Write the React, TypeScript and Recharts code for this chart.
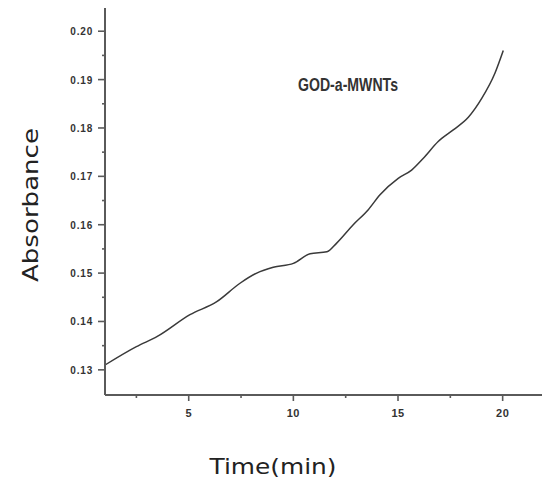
import React from 'react';
import { LineChart, Line, XAxis, YAxis, Customized } from 'recharts';

// Absorbance trace sampled along the curve (time in min)
const times = [
  1, 2.5, 3.5, 5.06, 6.34, 7.45, 8.25, 9.04, 10.0, 10.8, 11.6, 12.07, 12.86,
  13.58, 14.14, 15.01, 15.65, 16.2, 16.92, 17.64, 18.36, 19.0, 19.63, 20.03,
];
const absorbance = [
  0.131, 0.1348, 0.1369, 0.1414, 0.1441, 0.1479, 0.15, 0.1512, 0.152, 0.154,
  0.1544, 0.1562, 0.16, 0.1631, 0.1662, 0.1696, 0.1713, 0.1737, 0.1772,
  0.1796, 0.1822, 0.1861, 0.1913, 0.196,
];

const xTicks = [2.5, 5, 7.5, 10, 12.5, 15, 17.5, 20];
const yTicks = [
  0.13, 0.135, 0.14, 0.145, 0.15, 0.155, 0.16, 0.165, 0.17, 0.175, 0.18,
  0.185, 0.19, 0.195, 0.2,
];

const seriesLabel = 'GOD-a-MWNTs';
const xTitle = 'Time(min)';
const yTitle = 'Absorbance';

const data = times.map((t, i) => ({ t, a: absorbance[i] }));

const axisColor = '#5a5a5a';
const tickFont = 'Arial, "Liberation Sans", sans-serif';
const titleFont = '"DejaVu Sans", sans-serif';

const XTick = (props: any) => {
  const { x, y, payload } = props;
  const major = payload.value % 5 === 0;
  return (
    <g>
      <line x1={x} x2={x} y1={y} y2={y + (major ? 6 : 3)} stroke={axisColor} strokeWidth={1.6} />
      {major && (
        <text x={x} y={y + 22} textAnchor="middle" fontSize={11} fontWeight="bold" fill="#333" fontFamily={tickFont} letterSpacing={0.5}>
          {payload.value}
        </text>
      )}
    </g>
  );
};

const YTick = (props: any) => {
  const { x, y, payload } = props;
  const major = Math.round(payload.value * 1000) % 10 === 0;
  return (
    <g>
      <line x1={x} x2={x - (major ? 7 : 3)} y1={y} y2={y} stroke={axisColor} strokeWidth={1.6} />
      {major && (
        <text x={x - 12} y={y + 4} textAnchor="end" fontSize={10} fontWeight="bold" fill="#333" fontFamily={tickFont} letterSpacing={0.8}>
          {payload.value.toFixed(2)}
        </text>
      )}
    </g>
  );
};

export default function App() {
  return (
    <div style={{ position: 'absolute', left: 0, top: 0, width: 542, height: 482, background: '#fff' }}>
      <LineChart width={542} height={482} data={data} margin={{ top: 8, right: 0, bottom: 0, left: 0 }}>
        <XAxis
          dataKey="t"
          type="number"
          domain={[1, 21.88]}
          ticks={xTicks}
          height={87}
          tickSize={0}
          tickMargin={0}
          tickLine={false}
          tick={XTick}
          axisLine={{ stroke: axisColor, strokeWidth: 2 }}
          allowDataOverflow
        />
        <YAxis
          type="number"
          domain={[0.1248, 0.2048]}
          ticks={yTicks}
          width={105}
          tickSize={0}
          tickMargin={0}
          tickLine={false}
          tick={YTick}
          axisLine={{ stroke: axisColor, strokeWidth: 2 }}
          allowDataOverflow
        />
        <Line
          dataKey="a"
          type="monotone"
          stroke="#3a3a3a"
          strokeWidth={1.5}
          dot={false}
          isAnimationActive={false}
        />
        <Customized
          component={() => (
            <g>
              <text
                x={348}
                y={91}
                textAnchor="middle"
                fontSize={18}
                fontWeight="bold"
                fill="#333"
                fontFamily={tickFont}
                textLength={100}
                lengthAdjust="spacingAndGlyphs"
              >
                {seriesLabel}
              </text>
              <text
                x={273}
                y={474}
                textAnchor="middle"
                fontSize={22}
                fill="#222"
                fontFamily={titleFont}
                textLength={127}
                lengthAdjust="spacingAndGlyphs"
              >
                {xTitle}
              </text>
              <text
                x={38}
                y={205}
                textAnchor="middle"
                fontSize={22}
                fill="#222"
                fontFamily={titleFont}
                textLength={154}
                lengthAdjust="spacingAndGlyphs"
                transform="rotate(-90 38 205)"
              >
                {yTitle}
              </text>
            </g>
          )}
        />
      </LineChart>
    </div>
  );
}
